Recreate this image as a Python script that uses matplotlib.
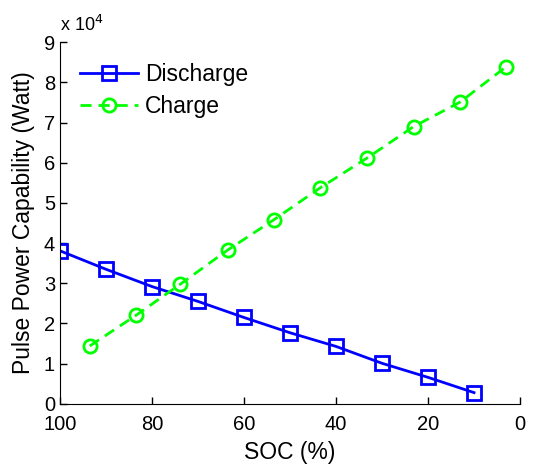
import matplotlib
matplotlib.use("Agg")
import matplotlib.pyplot as plt
from matplotlib.ticker import FuncFormatter

# discharge / charge pulse power vs SOC
soc_dis = [100, 90, 80, 70, 60, 50, 40, 30, 20, 10]
p_dis = [38100, 33500, 29200, 25500, 21500, 17700, 14300, 10100, 6600, 2800]

soc_chg = [93.5, 83.5, 73.8, 63.5, 53.5, 43.5, 33.2, 23.1, 13.0, 3.0]
p_chg = [14400, 22000, 29800, 38300, 45800, 53700, 61200, 69000, 75100, 83900]

plt.rcParams['font.family'] = ['Liberation Sans', 'DejaVu Sans']

fig = plt.figure(figsize=(5.44, 4.68), dpi=100)
ax = fig.add_axes([0.110, 0.137, 0.846, 0.773])

ax.plot(soc_dis, p_dis, '-s', color=(0, 0, 1), lw=2, ms=10.5, mfc='none',
        mew=2, label='Discharge')
ax.plot(soc_chg, p_chg, '--o', color=(0, 1, 0), lw=2, ms=9.5, mfc='none',
        mew=2, dashes=(4, 2.5), label='Charge')

ax.set_xlim(100, 0)
ax.set_ylim(0, 90000)
ax.set_xticks(range(0, 101, 20))
ax.set_yticks(range(0, 90001, 10000))
ax.yaxis.set_major_formatter(FuncFormatter(lambda v, p: '%d' % round(v / 1e4)))
ax.tick_params(direction='in', labelsize=14.5, length=5, width=1)
ax.tick_params(axis='x', pad=8)
ax.spines['top'].set_visible(False)
ax.spines['right'].set_visible(False)

ax.set_xlabel('SOC (%)', fontsize=16.5, labelpad=5)
ax.set_ylabel('Pulse Power Capability (Watt)', fontsize=16.5, labelpad=6)
ax.text(0.0, 1.02, r'x 10$^4$', transform=ax.transAxes, fontsize=13,
        ha='left', va='bottom')

ax.legend(loc='upper left', frameon=False, fontsize=16.5, handlelength=2.5,
          borderaxespad=0.5, handletextpad=0.3, labelspacing=0.4)

fig.savefig('out.png', dpi=100)
